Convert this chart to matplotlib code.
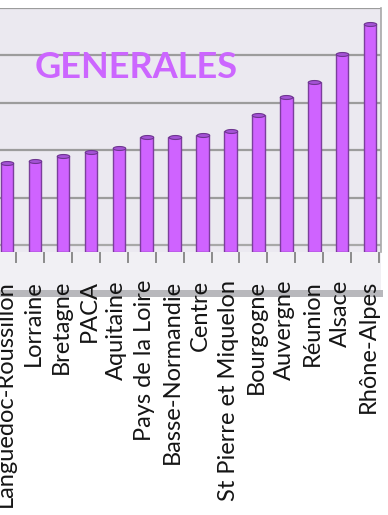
import numpy as np
import matplotlib.pyplot as plt
import matplotlib.transforms as mtransforms
from matplotlib.patches import Rectangle

# regions (sorted by value) and their bar heights
regions = ['Languedoc-Roussillon', 'Lorraine', 'Bretagne', 'PACA', 'Aquitaine',
           'Pays de la Loire', 'Basse-Normandie', 'Centre', 'St Pierre et Miquelon',
           'Bourgogne', 'Auvergne', 'Réunion', 'Alsace', 'Rhône-Alpes']
values = [1.73, 1.77, 1.88, 1.96, 2.05, 2.28, 2.28, 2.32, 2.41,
          2.74, 3.12, 3.44, 4.03, 4.66]
grid_values = [1, 2, 3, 4, 5]

W, H = 388, 515
fig = plt.figure(figsize=(W / 100, H / 100), dpi=100)
fig.patch.set_facecolor('white')

def px(x0, y0, x1, y1):
    # pixel box (from top-left) -> figure fraction rect
    return [x0 / W, 1 - y1 / H, (x1 - x0) / W, (y1 - y0) / H]

# floor of the 3d chart
fig.patches.append(Rectangle((0, 1 - 290 / H), 381 / W, 38 / H, transform=fig.transFigure,
                             facecolor='#f1f0f4', edgecolor='none', zorder=0))
fig.patches.append(Rectangle((0, 1 - 297 / H), 383 / W, 7 / H, transform=fig.transFigure,
                             facecolor='#b8b8bc', edgecolor='none', zorder=0))

ax = fig.add_axes(px(-18, 8, 381, 252))
ax.set_zorder(2)
ax.set_facecolor('#ebe9f0')
x = list(range(len(regions)))
ax.bar(x, [v + 0.15 for v in values], bottom=-0.15, width=0.45,
       color='#cf63ff', edgecolor='#7b3f9c', linewidth=1.0, zorder=3)

# flattened cap on top of each cylinder
t = np.linspace(0, 2 * np.pi, 40)
cap = list(zip(np.cos(t), 0.32 * np.sin(t)))
ax.scatter(x, values, s=80, marker=cap, color='#a552d6', edgecolor='#6e3590',
           linewidth=0.8, zorder=4)

for g in grid_values:
    ax.axhline(g, color='#9c9c9c', linewidth=1.6, zorder=1)
ax.axhline(0, color='#a8a8a8', linewidth=1.6, zorder=1)

ax.set_xlim(-0.9, 13.39)
ax.set_ylim(-0.15, 5)
for s in ['left', 'bottom', 'top']:
    ax.spines[s].set_visible(False)
ax.spines['right'].set_color('#a8a8a8')
ax.spines['right'].set_linewidth(1.2)
ax.set_xticks([])
ax.set_yticks([])

# tick marks between categories on the floor edge
trans = mtransforms.blended_transform_factory(ax.transData, fig.transFigure)
for i in x:
    ax.plot([i + 0.32, i + 0.32], [1 - 253 / H, 1 - 262 / H], color='#8c8c8c',
            linewidth=1.4, transform=trans, clip_on=False)

for i, name in enumerate(regions):
    ax.text(i - 0.07, 1 - 280 / H, name, transform=trans, rotation=90,
            ha='center', va='top', fontsize=17, family='Lato', color='#151515')

fig.text(35 / W, 1 - 68 / H, 'GENERALES', ha='left', va='center', fontsize=26,
         fontweight='bold', family='Lato', color='#cc66ff')

fig.savefig('out.png', dpi=100, facecolor='white')
